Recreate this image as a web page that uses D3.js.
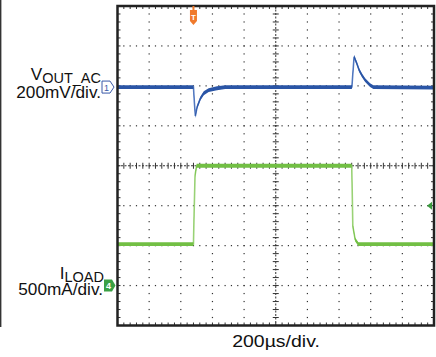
<!DOCTYPE html>
<html>
<head>
<meta charset="utf-8">
<script src="https://cdn.jsdelivr.net/npm/d3@7"></script>
<style>
  html, body { margin: 0; padding: 0; background: #fff; }
  svg { display: block; font-family: "Liberation Sans", Arial, sans-serif; }
</style>
</head>
<body>
<div id="scope"></div>
<script>
// screen: 10 x 8 divisions, time in µs relative to trigger
const timeDomain = [-480, 1520];
const divDomain = [-4, 4];

// CH1: Vout (AC), mV, 200mV/div
const voutTime = [-480, 0, 6, 12, 23, 44, 65, 96, 149, 201, 1001, 1015, 1032, 1047, 1064, 1085, 1116, 1137, 1520];
const voutMv   = [0, 0, -80, -145, -100, -57, -31, -15, -6, 0, 0, 152, 119, 85, 60, 35, 10, 0, -3];

// CH4: load current, mA, 500mA/div
const iloadTime = [-480, 0, 4, 10, 20, 1000, 1003, 1007, 1022, 1042, 1520];
const iloadMa   = [520, 520, 900, 1380, 1500, 1500, 1200, 743, 576, 520, 520];

const ch1Scale = 200, ch1Offset = 1.97;   // mV/div, ground marker (div)
const ch4Scale = 500, ch4Offset = -3;     // mA/div
const trigLevelMa = 1000;

const W = 436, H = 357;
const frame = { left: 117.5, right: 434, top: 6, bottom: 325.5 };

const svg = d3.select("#scope").append("svg")
    .attr("width", W)
    .attr("height", H);

const x = d3.scaleLinear().domain(timeDomain).range([frame.left, frame.right]);
const y = d3.scaleLinear().domain(divDomain).range([frame.bottom, frame.top]);

const divW = (frame.right - frame.left) / 10;
const divH = (frame.bottom - frame.top) / 8;

// left rule
svg.append("line")
    .attr("x1", 0.7).attr("x2", 0.7)
    .attr("y1", 0).attr("y2", 327)
    .attr("stroke", "#333").attr("stroke-width", 1.4);

// dotted graticule
const grid = svg.append("g").attr("fill", "#333");
d3.range(1, 10).filter(k => k !== 5).forEach(k => {
    const gx = frame.left + k * divW;
    d3.range(1, 40).forEach(j => {
        grid.append("rect").attr("x", gx - 0.6).attr("y", frame.top + j * divH / 5 - 0.6)
            .attr("width", 1.2).attr("height", 1.2);
    });
});
d3.range(1, 8).filter(k => k !== 4).forEach(k => {
    const gy = frame.top + k * divH;
    d3.range(1, 50).forEach(j => {
        grid.append("rect").attr("x", frame.left + j * divW / 5 - 0.6).attr("y", gy - 0.6)
            .attr("width", 1.2).attr("height", 1.2);
    });
});

// center axes with minor ticks
const cx = x((timeDomain[0] + timeDomain[1]) / 2);
const cy = y(0);
const axes = svg.append("g").attr("stroke", "#333").attr("stroke-width", 1);
axes.append("line").attr("x1", frame.left).attr("x2", frame.right).attr("y1", cy).attr("y2", cy)
    .attr("stroke-dasharray", "2,1.5");
axes.append("line").attr("x1", cx).attr("x2", cx).attr("y1", frame.top).attr("y2", frame.bottom)
    .attr("stroke-dasharray", "2,1.5");
d3.range(1, 50).forEach(j => {
    const tx = frame.left + j * divW / 5;
    axes.append("line").attr("x1", tx).attr("x2", tx).attr("y1", cy - 3).attr("y2", cy + 3);
    axes.append("line").attr("x1", tx).attr("x2", tx).attr("y1", frame.top).attr("y2", frame.top + 3);
    axes.append("line").attr("x1", tx).attr("x2", tx).attr("y1", frame.bottom - 3).attr("y2", frame.bottom);
});
d3.range(1, 40).forEach(j => {
    const ty = frame.top + j * divH / 5;
    axes.append("line").attr("x1", cx - 3).attr("x2", cx + 3).attr("y1", ty).attr("y2", ty);
    axes.append("line").attr("x1", frame.left).attr("x2", frame.left + 3).attr("y1", ty).attr("y2", ty);
    axes.append("line").attr("x1", frame.right - 3).attr("x2", frame.right).attr("y1", ty).attr("y2", ty);
});

// traces
function drawTrace(times, vals, scale, offset, fill, edge) {
    const pts = times.map((t, i) => [x(t), y(vals[i] / scale + offset)]);
    const area = d3.area().x(d => d[0]).y0(d => d[1] + 1.9).y1(d => d[1] - 1.9);
    const line = d3.line().x(d => d[0]).y(d => d[1]);
    svg.append("path").attr("d", line(pts)).attr("fill", "none")
        .attr("stroke", edge).attr("stroke-width", 1.6);
    svg.append("path").attr("d", area(pts)).attr("fill", fill);
}
drawTrace(iloadTime, iloadMa, ch4Scale, ch4Offset, "#72bf44", "#9dd47a");
drawTrace(voutTime, voutMv, ch1Scale, ch1Offset, "#2a55a6", "#5f84c8");

// frame
svg.append("rect")
    .attr("x", frame.left).attr("y", frame.top)
    .attr("width", frame.right - frame.left).attr("height", frame.bottom - frame.top)
    .attr("fill", "none").attr("stroke", "#222").attr("stroke-width", 2.5);

// trigger position marker
const tx0 = x(0);
svg.append("line").attr("x1", tx0).attr("x2", tx0).attr("y1", frame.top).attr("y2", 11)
    .attr("stroke", "#f07a2c").attr("stroke-width", 2);
svg.append("path")
    .attr("d", `M${tx0 - 3.5},10 h7 v11 l-3.5,4 l-3.5,-4 Z`)
    .attr("fill", "#f07a2c");
svg.append("text").attr("x", tx0).attr("y", 19.5).attr("text-anchor", "middle")
    .attr("font-size", 8).attr("font-weight", "bold").attr("fill", "#fff").text("T");

// trigger level marker
const ty0 = y(trigLevelMa / ch4Scale + ch4Offset);
svg.append("path")
    .attr("d", `M${frame.right - 7},${ty0} l5,-4 v8 Z`)
    .attr("fill", "#3a9a3e");

// channel ground markers
const g1 = y(ch1Offset);
svg.append("path")
    .attr("d", `M102,${g1 - 6} h8 l4,6 l-4,6 h-8 Z`)
    .attr("fill", "#fff").attr("stroke", "#3a5aa8").attr("stroke-width", 1);
svg.append("text").attr("x", 106.5).attr("y", g1 + 3.5).attr("text-anchor", "middle")
    .attr("font-size", 9).attr("fill", "#3a5aa8").text("1");

const g4 = y(ch4Offset);
svg.append("path")
    .attr("d", `M104,${g4 - 6} h8 l3.5,6 l-3.5,6 h-8 Z`)
    .attr("fill", "#3aa044");
svg.append("text").attr("x", 108.5).attr("y", g4 + 3.5).attr("text-anchor", "middle")
    .attr("font-size", 9).attr("font-weight", "bold").attr("fill", "#fff").text("4");

// labels
const lab = svg.append("g").attr("fill", "#111");
const v = lab.append("text").attr("x", 101).attr("y", 80).attr("text-anchor", "end").attr("font-size", 17.2);
v.append("tspan").text("V");
v.append("tspan").attr("font-size", 14.5).attr("dy", 2.5).text("OUT_AC");
lab.append("text").attr("x", 101).attr("y", 97.5).attr("text-anchor", "end").attr("font-size", 17.2)
    .text("200mV/div.");

const il = lab.append("text").attr("x", 104).attr("y", 279).attr("text-anchor", "end").attr("font-size", 17.2);
il.append("tspan").text("I");
il.append("tspan").attr("font-size", 14.5).attr("dy", 2.5).text("LOAD");
lab.append("text").attr("x", 103).attr("y", 294.5).attr("text-anchor", "end").attr("font-size", 17.2)
    .text("500mA/div.");

lab.append("text")
    .attr("transform", "translate(276,346.5) scale(1.18,1)")
    .attr("text-anchor", "middle").attr("font-size", 16.5)
    .text("200µs/div.");
</script>
</body>
</html>
